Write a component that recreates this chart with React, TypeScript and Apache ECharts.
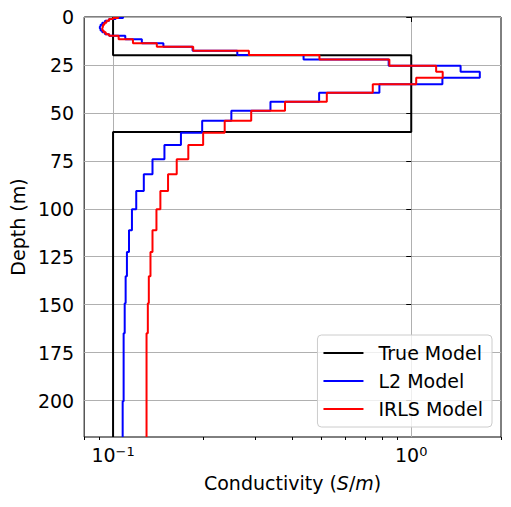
import React, { useEffect, useRef } from 'react';
import * as echarts from 'echarts';

// true model: layer boundaries (m) and conductivity (S/m)
const trueDepths = [0, 20, 60, 219];
const trueSigma = [0.1, 1.0, 0.1];

// recovered models share the same mesh
const layerDepths = [
  0, 0.5, 1, 2, 3, 4, 5, 6, 7, 8, 9, 9.8, 11.6, 13.7, 15.5, 17.6, 19.8, 22.1,
  25.4, 28.6, 31.7, 35.1, 39.5, 44.2, 48.9, 54.1, 60.4, 66.8, 74.2, 82.0, 90.7,
  100.3, 111.2, 122.6, 135.2, 149.2, 164.9, 200.4, 219,
];
const l2Sigma = [
  0.108, 0.102, 0.097, 0.094, 0.092, 0.0908, 0.0903, 0.0908, 0.092, 0.094, 0.097,
  0.1099, 0.1249, 0.1475, 0.1848, 0.261, 0.4354, 0.84, 1.464, 1.698, 1.272, 0.782,
  0.491, 0.3372, 0.2493, 0.199, 0.1689, 0.1487, 0.1356, 0.1268, 0.1196, 0.1157,
  0.1131, 0.1113, 0.1102, 0.1094, 0.1085, 0.1077,
];
const irlsSigma = [
  0.104, 0.1, 0.097, 0.095, 0.0935, 0.0925, 0.092, 0.0922, 0.093, 0.0945, 0.097,
  0.1044, 0.1166, 0.1402, 0.1857, 0.2855, 0.4922, 0.8447, 1.212, 1.275, 1.039, 0.743,
  0.521, 0.3773, 0.2906, 0.2368, 0.2005, 0.1788, 0.1635, 0.1529, 0.1441, 0.1398,
  0.1356, 0.1335, 0.1318, 0.1308, 0.1295, 0.1295,
];

const depthTicks = [0, 25, 50, 75, 100, 125, 150, 175, 200];
const majorTicks = [0.1, 1];
const minorTicks = [0.08, 0.09, 0.2, 0.3, 0.4, 0.5, 0.6, 0.7, 0.8, 0.9, 2];
const xLimits = [0.08, 2];
const depthMax = 219;

const FONT = 'DejaVu Sans';

// x is drawn on a log10 scale
const lg = (v: number) => Math.log10(v);

const toSteps = (depths: number[], sigma: number[]) => {
  const pts: number[][] = [];
  sigma.forEach((s, i) => {
    pts.push([lg(s), depths[i]]);
    pts.push([lg(s), depths[i + 1]]);
  });
  return pts;
};

const App: React.FC = () => {
  const chartRef = useRef<HTMLDivElement>(null);

  useEffect(() => {
    document.body.style.margin = '0';
    if (!chartRef.current) return;
    const chart = echarts.init(chartRef.current, null, { renderer: 'svg' });

    const line = (name: string, color: string, data: number[][]) => ({
      name,
      type: 'line',
      data,
      symbol: 'none',
      showSymbol: false,
      lineStyle: { color, width: 2 },
      itemStyle: { color },
      clip: true,
    });

    const option = {
      animation: false,
      backgroundColor: '#ffffff',
      textStyle: { fontFamily: FONT },
      grid: {
        left: 81,
        right: 10,
        top: 17,
        bottom: 70,
        show: true,
        borderColor: '#000000',
        borderWidth: 1,
        backgroundColor: 'transparent',
      },
      legend: {
        data: ['True Model', 'L2 Model', 'IRLS Model'],
        orient: 'vertical',
        right: 19,
        bottom: 80,
        itemWidth: 40,
        itemHeight: 14,
        itemGap: 6,
        padding: [7, 9, 7, 5],
        backgroundColor: 'rgba(255,255,255,0.8)',
        borderColor: '#cccccc',
        borderWidth: 1,
        borderRadius: 4,
        itemStyle: { opacity: 0 },
        lineStyle: { width: 2 },
        textStyle: {
          fontFamily: FONT,
          fontSize: 19,
          color: '#000000',
          lineHeight: 22,
          padding: [0, 0, 0, 10],
        },
      },
      xAxis: [
        {
          type: 'value',
          min: lg(xLimits[0]),
          max: lg(xLimits[1]),
          name: 'Conductivity ({i|S}/{i|m})',
          nameLocation: 'middle',
          nameGap: 36,
          nameTextStyle: {
            fontFamily: FONT,
            fontSize: 19,
            color: '#000000',
            rich: {
              i: { fontFamily: FONT, fontSize: 19, fontStyle: 'italic', color: '#000000' },
            },
          },
          axisLine: { show: false },
          axisTick: {
            show: true,
            length: 5,
            customValues: majorTicks.map(lg),
            lineStyle: { color: '#000000', width: 1 },
          },
          axisLabel: {
            customValues: majorTicks.map(lg),
            margin: 8,
            color: '#000000',
            fontFamily: FONT,
            fontSize: 19,
            formatter: (v: number) => {
              const e = Math.round(v);
              return `10{sup|${e < 0 ? '\u2212' + -e : e}}`;
            },
            rich: {
              sup: { fontFamily: FONT, fontSize: 13, color: '#000000', verticalAlign: 'top' },
            },
          },
          splitLine: { show: true, lineStyle: { color: '#b0b0b0', width: 1 } },
        },
        {
          type: 'value',
          min: lg(xLimits[0]),
          max: lg(xLimits[1]),
          position: 'bottom',
          axisLine: { show: false },
          axisTick: {
            show: true,
            length: 3,
            customValues: minorTicks.map(lg),
            lineStyle: { color: '#000000', width: 1 },
          },
          axisLabel: { show: false },
          splitLine: { show: false },
        },
      ],
      yAxis: {
        type: 'value',
        inverse: true,
        min: 0,
        max: depthMax,
        name: 'Depth (m)',
        nameLocation: 'middle',
        nameGap: 57,
        nameTextStyle: { fontFamily: FONT, fontSize: 19, color: '#000000' },
        axisLine: { show: false },
        axisTick: {
          show: true,
          length: 5,
          customValues: depthTicks,
          lineStyle: { color: '#000000', width: 1 },
        },
        axisLabel: {
          customValues: depthTicks,
          margin: 10,
          color: '#000000',
          fontFamily: FONT,
          fontSize: 19,
        },
        splitLine: { show: true, lineStyle: { color: '#b0b0b0', width: 1 } },
      },
      series: [
        line('True Model', '#000000', toSteps(trueDepths, trueSigma)),
        line('L2 Model', '#0000ff', toSteps(layerDepths, l2Sigma)),
        line('IRLS Model', '#ff0000', toSteps(layerDepths, irlsSigma)),
      ],
    };

    chart.setOption(option as any);
    return () => {
      chart.dispose();
    };
  }, []);

  return <div ref={chartRef} style={{ width: 511, height: 507 }} />;
};

export default App;
